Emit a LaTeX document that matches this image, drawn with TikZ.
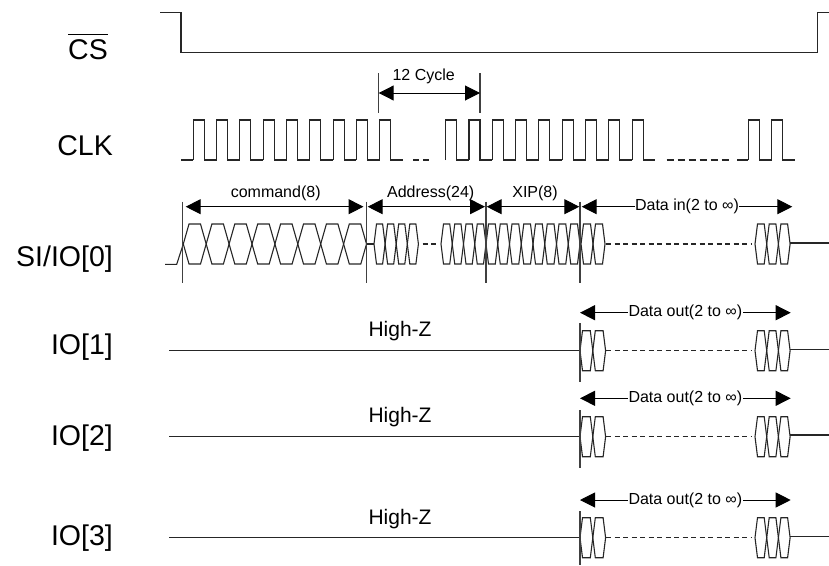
\documentclass[tikz,border=0pt]{standalone}
\usepackage{fontspec}
\setmainfont{Liberation Sans}
\usetikzlibrary{arrows.meta}

\tikzset{
  wave/.style={line width=1.1pt,black!85,line join=miter},
  gapline/.style={line width=1.1pt,black!85,dash pattern=on 5pt off 3.5pt},
  tick/.style={line width=1.1pt,black!75},
  span/.style={line width=1pt,black,{Triangle[length=15pt,width=15pt]}-{Triangle[length=15pt,width=15pt]}},
  siglabel/.style={anchor=base east,inner sep=0pt,font=\fontsize{28.5}{30}\selectfont},
  smalltext/.style={anchor=base,inner sep=0pt,font=\fontsize{16}{18}\selectfont},
  spantext/.style={fill=white,inner xsep=0.5pt,inner ysep=1pt,font=\fontsize{16}{18}\selectfont},
  hiz/.style={anchor=base,inner sep=0pt,font=\fontsize{21}{23}\selectfont}
}

% x0, period, cells, mid y, slope
\newcommand{\hexrun}[5]{%
  \foreach \c in {1,...,#3}{
    \pgfmathsetmacro{\ca}{#1+(\c-1)*#2}
    \pgfmathsetmacro{\cb}{\ca+#2}
    \draw[wave] (\ca,#4)--(\ca+#5,#4-20)--(\cb-#5,#4-20)--(\cb,#4)--(\cb-#5,#4+20)--(\ca+#5,#4+20)--cycle;
  }%
}
% first rising edge, pulses
\newcommand{\clkrun}[2]{%
  \foreach \c in {1,...,#2}{
    \pgfmathsetmacro{\ca}{#1+(\c-1)*23.3}
    \draw[wave] (\ca,160)--(\ca,120)--(\ca+11,120)--(\ca+11,160)--(\ca+23.3,160);
  }%
}

\begin{document}
\begin{tikzpicture}[x=1pt,y=-1pt]
\useasboundingbox (0,0) rectangle (829,565);

% signal names
\node[siglabel] (lblcs) at (108,59.5) {\(\overline{\mbox{\rule{0pt}{24pt}CS}}\)};
\node[siglabel] (lblclk) at (113,155) {CLK};
\node[siglabel] (lblsi) at (113,266.7) {SI/IO[0]};
\node[siglabel] (lblioa) at (113,354) {IO[1]};
\node[siglabel] (lbliob) at (113,445) {IO[2]};
\node[siglabel] (lblioc) at (113,545.7) {IO[3]};

% chip select
\draw[wave] (160,12.5)--(181,12.5)--(181,52.5)--(817.7,52.5)--(817.7,12.5)--(829,12.5);

% clock
\draw[wave] (181,160)--(193.3,160);
\clkrun{193.3}{9}
\draw[wave,dash pattern=on 6pt off 4pt] (413,160)--(429,160);
\clkrun{445.7}{9}
\draw[wave,dash pattern=on 7pt off 4pt] (666.7,160)--(728.7,160);
\draw[wave] (737.3,160)--(748.3,160);
\clkrun{748.3}{2}

% cycle marker
\coordinate (cyca) at (378.7,93);
\coordinate (cycb) at (480,93);
\draw[tick] (378.7,73)--(378.7,113);
\draw[tick] (480,73)--(480,113);
\draw[span] (cyca)--(cycb);
\node[smalltext] (lblcyc) at (423.7,80) {12 Cycle};

% SI/IO[0] bit cells
\draw[wave] (165,264.3)--(176.7,264.3)--(183.3,244);
\hexrun{183.3}{22.9}{8}{244}{5.7}
\draw[wave] (366.7,244)--(374,244);
\hexrun{374}{11.1}{4}{244}{2.5}
\draw[gapline] (422.7,244)--(438,244);
\hexrun{441}{11.25}{4}{244}{2.5}
\hexrun{486}{11.75}{8}{244}{2.5}
\hexrun{581}{12}{2}{244}{2.5}
\draw[gapline] (606,244)--(752,244);
\hexrun{755}{11.7}{3}{244}{2.5}
\draw[wave] (790,243)--(829,243);

% SI/IO[0] field markers
\foreach \x in {182.7,366.7,486,580}{
  \draw[tick] (\x,201.7)--(\x,282.7);
}
\coordinate (cmda) at (185.7,206.7);
\coordinate (cmdb) at (363.5,206.7);
\coordinate (adra) at (367.7,206.7);
\coordinate (adrb) at (485,206.7);
\coordinate (xipa) at (486.7,206.7);
\coordinate (xipb) at (579.3,206.7);
\coordinate (dina) at (581.7,206.7);
\coordinate (dinb) at (792.3,206.7);
\draw[span] (cmda)--(cmdb);
\draw[span] (adra)--(adrb);
\draw[span] (xipa)--(xipb);
\draw[span] (dina)-- node[spantext] (lbldin) {Data in(2 to ∞)} (dinb);
\node[smalltext] (lblcmd) at (275.7,197.7) {command(8)};
\node[smalltext] (lbladr) at (430.7,197.7) {Address(24)};
\node[smalltext] (lblxip) at (535,197.7) {XIP(8)};

% output lines: mid y / arrow y / text y / tick top / tick bottom / end y / name
\foreach \ym/\ya/\yt/\tt/\tb/\ye/\nm in {350.7/312.7/336.7/323/381.7/349.3/a,436.7/398.3/422.7/410/468/435/b,537.7/500/524/511/565/536.7/c}{
  \draw[wave] (169,\ym)--(580,\ym);
  \node[hiz] (hz\nm) at (400,\yt) {High-Z};
  \hexrun{580}{12.8}{2}{\ym}{2.5}
  \draw[gapline] (606,\ym)--(752,\ym);
  \hexrun{755}{11.7}{3}{\ym}{2.5}
  \draw[wave] (790,\ye)--(829,\ye);
  \draw[tick] (580,\tt)--(580,\tb);
  \coordinate (outa\nm) at (580,\ya);
  \coordinate (outb\nm) at (790.7,\ya);
  \draw[span] (outa\nm)-- node[spantext] (lblout\nm) {Data out(2 to ∞)} (outb\nm);
}
\end{tikzpicture}
\end{document}
